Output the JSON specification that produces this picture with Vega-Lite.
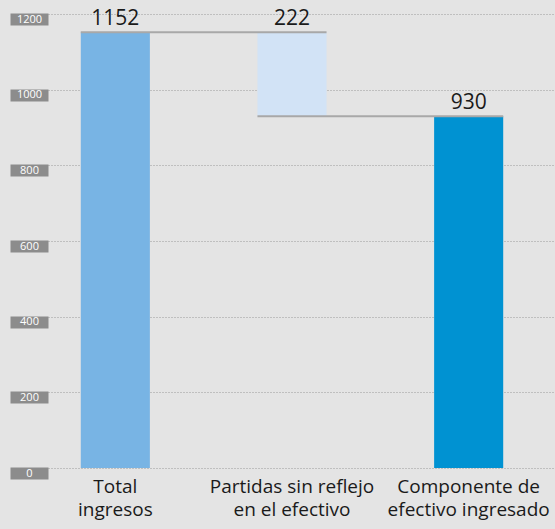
{
  "$schema": "https://vega.github.io/schema/vega-lite/v6.json",
  "width": 492,
  "height": 454,
  "autosize": "none",
  "padding": {"left": 48, "top": 14, "right": 15, "bottom": 61},
  "background": "#e4e4e4",
  "config": {
    "view": {"stroke": null},
    "axis": {"title": null},
    "font": "Open Sans"
  },
  "datasets": {
    "bars": [
      {"cat": "Total ingresos", "start": 0, "end": 1152, "label": "1152"},
      {"cat": "Partidas sin reflejo en el efectivo", "start": 930, "end": 1152, "label": "222"},
      {"cat": "Componente de efectivo ingresado", "start": 0, "end": 930, "label": "930"}
    ],
    "links": [
      {"from": "Total ingresos", "to": "Partidas sin reflejo en el efectivo", "value": 1152},
      {"from": "Partidas sin reflejo en el efectivo", "to": "Componente de efectivo ingresado", "value": 930}
    ]
  },
  "layer": [
    {
      "data": {"name": "bars"},
      "mark": {"type": "bar"},
      "encoding": {
        "x": {
          "field": "cat",
          "type": "nominal",
          "scale": {
            "domain": ["Total ingresos", "Partidas sin reflejo en el efectivo", "Componente de efectivo ingresado"],
            "range": [-21, 509],
            "paddingInner": 0.609,
            "paddingOuter": 0.3045
          },
          "axis": {
            "labelAngle": 0,
            "domain": false,
            "ticks": false,
            "labelPadding": 9,
            "labelFontSize": 19,
            "labelColor": "#1a1a1a",
            "labelLineHeight": 23,
            "labelBaseline": "top",
            "labelExpr": "datum.label == 'Total ingresos' ? ['Total', 'ingresos'] : datum.label == 'Partidas sin reflejo en el efectivo' ? ['Partidas sin reflejo', 'en el efectivo'] : ['Componente de', 'efectivo ingresado']"
          }
        },
        "y": {
          "field": "start",
          "type": "quantitative",
          "scale": {"domain": [0, 1200], "nice": false},
          "axis": {
            "grid": true,
            "gridColor": "#9a9a9a",
            "gridDash": [1, 2],
            "gridWidth": 1,
            "labels": false,
            "ticks": false,
            "domain": false,
            "values": [0, 200, 400, 600, 800, 1000, 1200]
          }
        },
        "y2": {"field": "end"},
        "color": {
          "field": "cat",
          "type": "nominal",
          "scale": {
            "domain": ["Total ingresos", "Partidas sin reflejo en el efectivo", "Componente de efectivo ingresado"],
            "range": ["#78b4e4", "#d2e3f6", "#0092d2"]
          },
          "legend": null
        }
      }
    },
    {
      "data": {"name": "links"},
      "mark": {"type": "rule", "color": "#a8a8a8", "strokeWidth": 2},
      "encoding": {
        "x": {"field": "from", "type": "nominal", "bandPosition": 0},
        "x2": {"field": "to", "bandPosition": 1},
        "y": {"field": "value", "type": "quantitative", "axis": null}
      }
    },
    {
      "data": {"name": "bars"},
      "mark": {"type": "text", "fontSize": 21, "color": "#1a1a1a", "baseline": "alphabetic", "dy": -7},
      "encoding": {
        "x": {"field": "cat", "type": "nominal"},
        "y": {
          "field": "end",
          "type": "quantitative",
          "axis": {
            "orient": "left",
            "grid": false,
            "domain": false,
            "format": "d",
            "values": [0, 200, 400, 600, 800, 1000, 1200],
            "tickSize": 38,
            "tickWidth": 12,
            "tickColor": "#8c8c8c",
            "tickOffset": 5,
            "labelPadding": -19,
            "labelAlign": "center",
            "labelBaseline": "middle",
            "labelColor": "#ffffff",
            "labelFontSize": 11
          }
        },
        "text": {"field": "label"}
      }
    }
  ],
  "resolve": {"axis": {"y": "independent"}}
}
